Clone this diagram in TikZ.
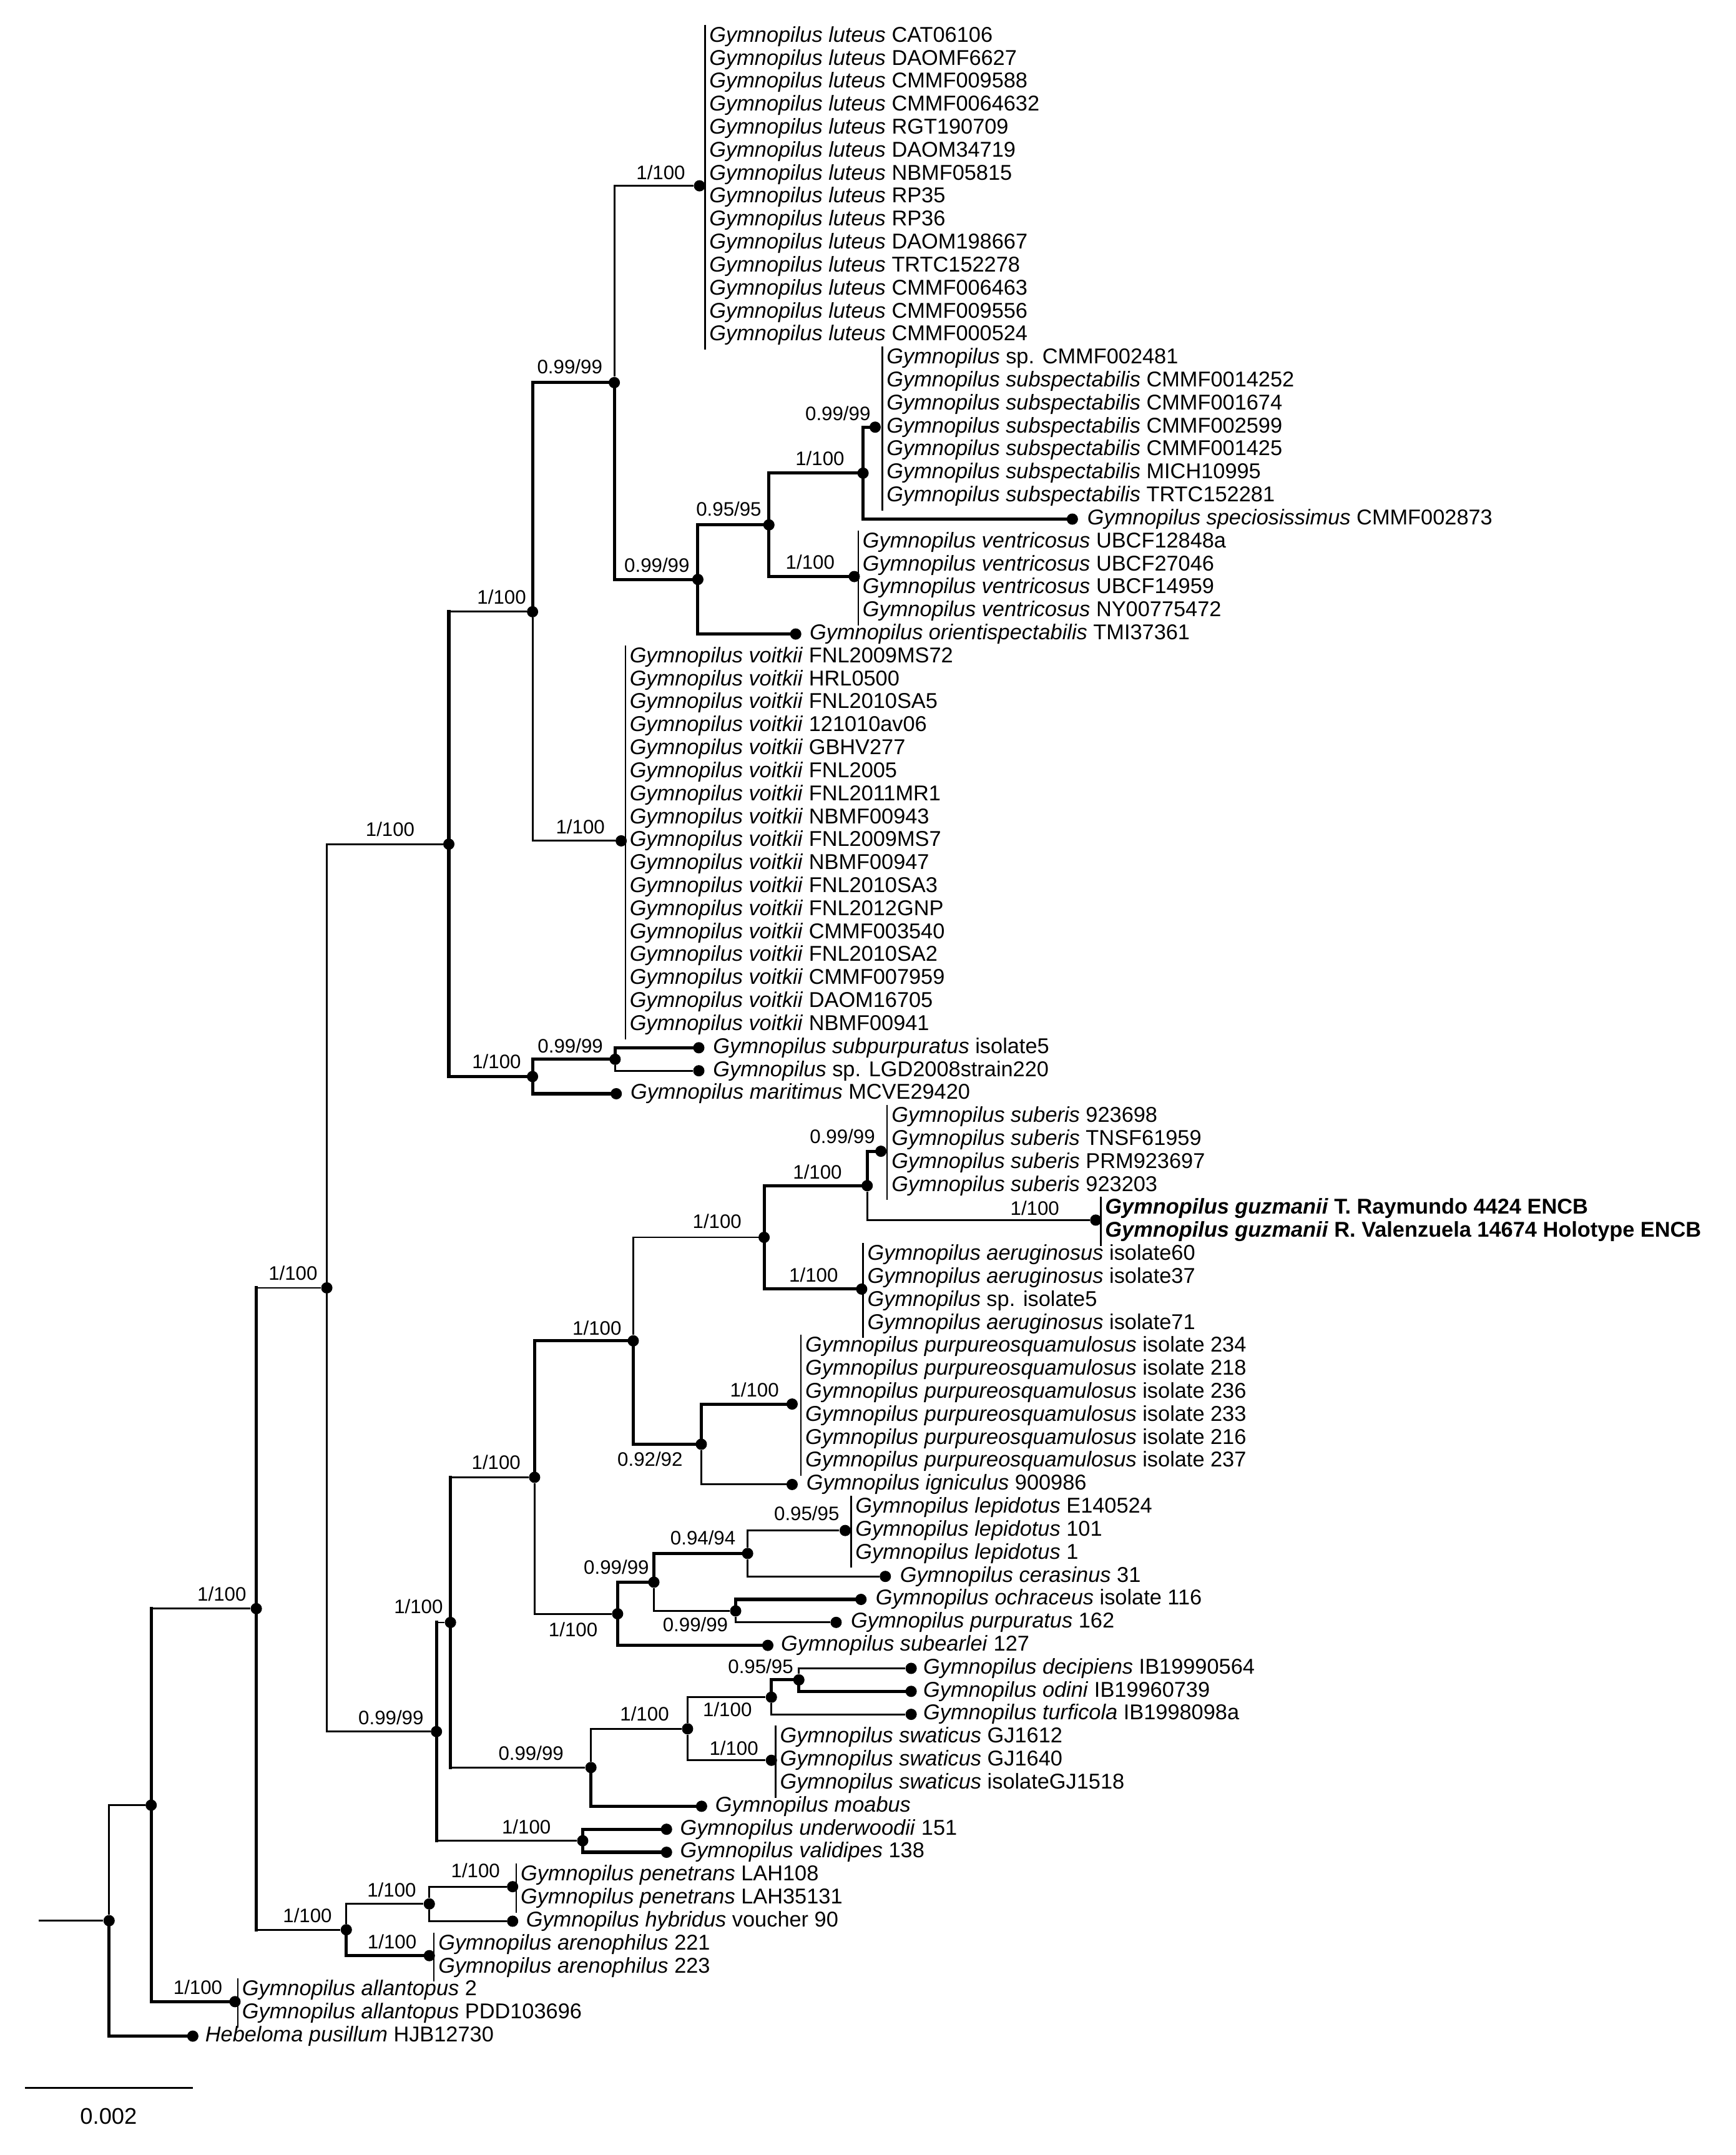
\documentclass[tikz,border=0pt]{standalone}
\usepackage{fontspec}
\setmainfont{Liberation Sans}
\usetikzlibrary{calc}
\tikzset{
  br/.style={line width=1.3pt},
  thk/.style={line width=2.3pt,line cap=rect},
  dot/.style={circle,fill=black,inner sep=0pt,minimum size=8.2pt},
  leaf/.style={anchor=west,inner sep=0pt,font=\fontsize{15.6}{18}\selectfont},
  sup/.style={inner sep=0pt,font=\fontsize{14.2}{16}\selectfont},
  grpbar/.style={line width=1pt},
}
\newcommand{\gy}[2]{\textit{Gymnopilus #1} #2}
\newcommand{\ly}[1]{26.5+16.724*#1}

\begin{document}
\begin{tikzpicture}[x=1pt,y=-1pt]
\useasboundingbox[fill=white] (0,0) rectangle (1263,1568);

% internal nodes
\node[dot] (rt) at (79.4,1397.5) {};
\node[dot] (nN) at (110,1313.45) {};
\node[dot] (nM) at (186.5,1170.45) {};
\node[dot] (nE) at (237.8,937.05) {};
\node[dot] (nC) at (326.6,614.2) {};
\node[dot] (nB) at (387.5,445.1) {};
\node[dot] (nA2) at (447,278.4) {};
\node[dot] (nLu) at (509,135.2) {};
\node[dot] (nA3) at (507.8,421.6) {};
\node[dot] (n95) at (559.5,381.9) {};
\node[dot] (n1a) at (628,344.25) {};
\node[dot] (nSs) at (636.8,310.8) {};
\node[dot] (nVt) at (621.6,419.5) {};
\node[dot] (nVk) at (452,611.8) {};
\node[dot] (nD1) at (387.5,783.3) {};
\node[dot] (nD2) at (447.6,770.75) {};
\node[dot] (nQ) at (317.6,1259.9) {};
\node[dot] (nL) at (327.8,1180.5) {};
\node[dot] (nJ) at (389,1074.9) {};
\node[dot] (nG) at (460.8,975.6) {};
\node[dot] (nF) at (556,900.3) {};
\node[dot] (nF2) at (631,862.7) {};
\node[dot] (nSb) at (641,837.65) {};
\node[dot] (nGz) at (797.3,887.75) {};
\node[dot] (nAe) at (627,937.95) {};
\node[dot] (nH) at (510.3,1050.85) {};
\node[dot] (nPq) at (576.4,1021.6) {};
\node[dot] (nK) at (449.4,1174.2) {};
\node[dot] (nK2) at (475.8,1151.2) {};
\node[dot] (nK3) at (544,1130.3) {};
\node[dot] (nK4) at (535.3,1172.1) {};
\node[dot] (nLp) at (615,1113.6) {};
\node[dot] (nP) at (430,1286.05) {};
\node[dot] (nS) at (500.3,1257.9) {};
\node[dot] (nT) at (561.3,1234.9) {};
\node[dot] (nU) at (581.3,1222.3) {};
\node[dot] (nSw) at (561.3,1280.8) {};
\node[dot] (nV) at (424,1339.35) {};
\node[dot] (nR) at (252,1404.1) {};
\node[dot] (nW) at (312.4,1385.3) {};
\node[dot] (nPn) at (373,1372.75) {};
\node[dot] (nAr) at (312.4,1422.95) {};
\node[dot] (nAl) at (171,1456.4) {};
\coordinate (rs) at (28,1397.5);

% single leaves
\node[dot] (dSc) at (780.3,{\ly{21}}) {};
\node[dot] (dOr) at (579,{\ly{26}}) {};
\node[dot] (dSu) at (508.5,{\ly{44}}) {};
\node[dot] (dLg) at (508.5,{\ly{45}}) {};
\node[dot] (dMa) at (448.4,{\ly{46}}) {};
\node[dot] (dIg) at (576.4,{\ly{63}}) {};
\node[dot] (dCe) at (644.2,{\ly{67}}) {};
\node[dot] (dOc) at (626.5,{\ly{68}}) {};
\node[dot] (dPu) at (608.4,{\ly{69}}) {};
\node[dot] (dSe) at (558.7,{\ly{70}}) {};
\node[dot] (dDe) at (663,{\ly{71}}) {};
\node[dot] (dOd) at (663,{\ly{72}}) {};
\node[dot] (dTu) at (663,{\ly{73}}) {};
\node[dot] (dMo) at (510.5,{\ly{77}}) {};
\node[dot] (dUn) at (485,{\ly{78}}) {};
\node[dot] (dVa) at (485,{\ly{79}}) {};
\node[dot] (dHy) at (373,{\ly{82}}) {};
\node[dot] (dHe) at (140.3,{\ly{87}}) {};

% branches
\draw[br] (rs) -- (rt);
\draw[br] (rt) |- (nN);
\draw[thk] (rt) |- (dHe);
\draw[br] (nN) |- (nM);
\draw[thk] (nN) |- (nAl);
\draw[br] (nM) |- (nE);
\draw[br] (nM) |- (nR);
\draw[br] (nE) |- (nC);
\draw[br] (nE) |- (nQ);
\draw[br] (nC) |- (nB);
\draw[thk] (nC) |- (nD1);
\draw[thk] (nB) |- (nA2);
\draw[br] (nB) |- (nVk);
\draw[br] (nA2) |- (nLu);
\draw[thk] (nA2) |- (nA3);
\draw[thk] (nA3) |- (n95);
\draw[thk] (nA3) |- (dOr);
\draw[thk] (n95) |- (n1a);
\draw[thk] (n95) |- (nVt);
\draw[thk] (n1a) |- (nSs);
\draw[thk] (n1a) |- (dSc);
\draw[thk] (nD1) |- (nD2);
\draw[thk] (nD1) |- (dMa);
\draw[thk] (nD2) |- (dSu);
\draw[br] (nD2) |- (dLg);
\draw[br] (nQ) |- (nL);
\draw[br] (nQ) |- (nV);
\draw[br] (nL) |- (nJ);
\draw[br] (nL) |- (nP);
\draw[thk] (nJ) |- (nG);
\draw[br] (nJ) |- (nK);
\draw[br] (nG) |- (nF);
\draw[thk] (nG) |- (nH);
\draw[thk] (nF) |- (nF2);
\draw[thk] (nF) |- (nAe);
\draw[thk] (nF2) |- (nSb);
\draw[br] (nF2) |- (nGz);
\draw[thk] (nH) |- (nPq);
\draw[br] (nH) |- (dIg);
\draw[thk] (nK) |- (nK2);
\draw[thk] (nK) |- (dSe);
\draw[thk] (nK2) |- (nK3);
\draw[br] (nK2) |- (nK4);
\draw[br] (nK3) |- (nLp);
\draw[br] (nK3) |- (dCe);
\draw[thk] (nK4) |- (dOc);
\draw[br] (nK4) |- (dPu);
\draw[br] (nP) |- (nS);
\draw[thk] (nP) |- (dMo);
\draw[br] (nS) |- (nT);
\draw[br] (nS) |- (nSw);
\draw[thk] (nT) |- (nU);
\draw[br] (nT) |- (dTu);
\draw[br] (nU) |- (dDe);
\draw[thk] (nU) |- (dOd);
\draw[thk] (nV) |- (dUn);
\draw[thk] (nV) |- (dVa);
\draw[br] (nR) |- (nW);
\draw[thk] (nR) |- (nAr);
\draw[br] (nW) |- (nPn);
\draw[br] (nW) |- (dHy);
\draw[thk] (nC |- nB) -- (nC |- nD1);
\draw[thk] (nM |- nE) -- (nM |- nR);
\draw[thk] (nN |- nM) -- (nN |- nAl);
\draw[thk] (nQ |- nL) -- (nQ |- nV);
\draw[thk] (nL |- nJ) -- (nL |- nP);
\draw[thk] (n95 |- n1a) -- (n95 |- nVt);

% support values
\node[sup] (sLu) at (480.8,125.7) {1/100};
\node[sup] (sA2) at (414.6,267) {0.99/99};
\node[sup] (sB) at (365,434.5) {1/100};
\node[sup] (sA3) at (478,411) {0.99/99};
\node[sup] (s95) at (530.3,370.4) {0.95/95};
\node[sup] (sSs) at (609.7,301) {0.99/99};
\node[sup] (s1a) at (596.6,333.5) {1/100};
\node[sup] (sVt) at (589.5,408.8) {1/100};
\node[sup] (sVk) at (422.3,601.4) {1/100};
\node[sup] (sC) at (283.9,603.2) {1/100};
\node[sup] (sD1) at (361.3,772.3) {1/100};
\node[sup] (sD2) at (415,760.8) {0.99/99};
\node[sup] (sSb) at (613,826.9) {0.99/99};
\node[sup] (sF2) at (594.8,852.7) {1/100};
\node[sup] (sGz) at (753,879) {1/100};
\node[sup] (sF) at (521.8,888.4) {1/100};
\node[sup] (sAe) at (592,927.8) {1/100};
\node[sup] (sG) at (434.4,966.2) {1/100};
\node[sup] (sPq) at (549,1011.4) {1/100};
\node[sup] (sH) at (473,1061.8) {0.92/92};
\node[sup] (sJ) at (361,1064) {1/100};
\node[sup] (sLp) at (587,1101) {0.95/95};
\node[sup] (sK3) at (511.5,1119) {0.94/94};
\node[sup] (sK2) at (448.5,1140.4) {0.99/99};
\node[sup] (sK4) at (506,1182) {0.99/99};
\node[sup] (sK) at (417,1185.8) {1/100};
\node[sup] (sL) at (304.5,1169) {1/100};
\node[sup] (sQ) at (284.5,1249.7) {0.99/99};
\node[sup] (sE) at (213.2,926.3) {1/100};
\node[sup] (sM) at (161.4,1159.6) {1/100};
\node[sup] (sP) at (386.4,1275.6) {0.99/99};
\node[sup] (sS) at (469,1247) {1/100};
\node[sup] (sT) at (529.3,1244) {1/100};
\node[sup] (sU) at (553.5,1212.4) {0.95/95};
\node[sup] (sSw) at (534,1271.8) {1/100};
\node[sup] (sV) at (383,1329) {1/100};
\node[sup] (sR) at (223.7,1393.5) {1/100};
\node[sup] (sW) at (285,1375) {1/100};
\node[sup] (sPn) at (346,1361) {1/100};
\node[sup] (sAr) at (285.3,1412.7) {1/100};
\node[sup] (sAl) at (144,1446) {1/100};

% taxa
\node[leaf] (t0) at (516,{\ly{0}}) {\gy{luteus}{CAT06106}};
\node[leaf] (t1) at (516,{\ly{1}}) {\gy{luteus}{DAOMF6627}};
\node[leaf] (t2) at (516,{\ly{2}}) {\gy{luteus}{CMMF009588}};
\node[leaf] (t3) at (516,{\ly{3}}) {\gy{luteus}{CMMF0064632}};
\node[leaf] (t4) at (516,{\ly{4}}) {\gy{luteus}{RGT190709}};
\node[leaf] (t5) at (516,{\ly{5}}) {\gy{luteus}{DAOM34719}};
\node[leaf] (t6) at (516,{\ly{6}}) {\gy{luteus}{NBMF05815}};
\node[leaf] (t7) at (516,{\ly{7}}) {\gy{luteus}{RP35}};
\node[leaf] (t8) at (516,{\ly{8}}) {\gy{luteus}{RP36}};
\node[leaf] (t9) at (516,{\ly{9}}) {\gy{luteus}{DAOM198667}};
\node[leaf] (t10) at (516,{\ly{10}}) {\gy{luteus}{TRTC152278}};
\node[leaf] (t11) at (516,{\ly{11}}) {\gy{luteus}{CMMF006463}};
\node[leaf] (t12) at (516,{\ly{12}}) {\gy{luteus}{CMMF009556}};
\node[leaf] (t13) at (516,{\ly{13}}) {\gy{luteus}{CMMF000524}};
\node[leaf] (t14) at (645,{\ly{14}}) {\textit{Gymnopilus} sp. CMMF002481};
\node[leaf] (t15) at (645,{\ly{15}}) {\gy{subspectabilis}{CMMF0014252}};
\node[leaf] (t16) at (645,{\ly{16}}) {\gy{subspectabilis}{CMMF001674}};
\node[leaf] (t17) at (645,{\ly{17}}) {\gy{subspectabilis}{CMMF002599}};
\node[leaf] (t18) at (645,{\ly{18}}) {\gy{subspectabilis}{CMMF001425}};
\node[leaf] (t19) at (645,{\ly{19}}) {\gy{subspectabilis}{MICH10995}};
\node[leaf] (t20) at (645,{\ly{20}}) {\gy{subspectabilis}{TRTC152281}};
\node[leaf] (t21) at (791,{\ly{21}}) {\gy{speciosissimus}{CMMF002873}};
\node[leaf] (t22) at (627.5,{\ly{22}}) {\gy{ventricosus}{UBCF12848a}};
\node[leaf] (t23) at (627.5,{\ly{23}}) {\gy{ventricosus}{UBCF27046}};
\node[leaf] (t24) at (627.5,{\ly{24}}) {\gy{ventricosus}{UBCF14959}};
\node[leaf] (t25) at (627.5,{\ly{25}}) {\gy{ventricosus}{NY00775472}};
\node[leaf] (t26) at (589,{\ly{26}}) {\gy{orientispectabilis}{TMI37361}};
\node[leaf] (t27) at (458,{\ly{27}}) {\gy{voitkii}{FNL2009MS72}};
\node[leaf] (t28) at (458,{\ly{28}}) {\gy{voitkii}{HRL0500}};
\node[leaf] (t29) at (458,{\ly{29}}) {\gy{voitkii}{FNL2010SA5}};
\node[leaf] (t30) at (458,{\ly{30}}) {\gy{voitkii}{121010av06}};
\node[leaf] (t31) at (458,{\ly{31}}) {\gy{voitkii}{GBHV277}};
\node[leaf] (t32) at (458,{\ly{32}}) {\gy{voitkii}{FNL2005}};
\node[leaf] (t33) at (458,{\ly{33}}) {\gy{voitkii}{FNL2011MR1}};
\node[leaf] (t34) at (458,{\ly{34}}) {\gy{voitkii}{NBMF00943}};
\node[leaf] (t35) at (458,{\ly{35}}) {\gy{voitkii}{FNL2009MS7}};
\node[leaf] (t36) at (458,{\ly{36}}) {\gy{voitkii}{NBMF00947}};
\node[leaf] (t37) at (458,{\ly{37}}) {\gy{voitkii}{FNL2010SA3}};
\node[leaf] (t38) at (458,{\ly{38}}) {\gy{voitkii}{FNL2012GNP}};
\node[leaf] (t39) at (458,{\ly{39}}) {\gy{voitkii}{CMMF003540}};
\node[leaf] (t40) at (458,{\ly{40}}) {\gy{voitkii}{FNL2010SA2}};
\node[leaf] (t41) at (458,{\ly{41}}) {\gy{voitkii}{CMMF007959}};
\node[leaf] (t42) at (458,{\ly{42}}) {\gy{voitkii}{DAOM16705}};
\node[leaf] (t43) at (458,{\ly{43}}) {\gy{voitkii}{NBMF00941}};
\node[leaf] (t44) at (518.7,{\ly{44}}) {\gy{subpurpuratus}{isolate5}};
\node[leaf] (t45) at (518.7,{\ly{45}}) {\textit{Gymnopilus} sp. LGD2008strain220};
\node[leaf] (t46) at (458.6,{\ly{46}}) {\gy{maritimus}{MCVE29420}};
\node[leaf] (t47) at (648.6,{\ly{47}}) {\gy{suberis}{923698}};
\node[leaf] (t48) at (648.6,{\ly{48}}) {\gy{suberis}{TNSF61959}};
\node[leaf] (t49) at (648.6,{\ly{49}}) {\gy{suberis}{PRM923697}};
\node[leaf] (t50) at (648.6,{\ly{50}}) {\gy{suberis}{923203}};
\node[leaf] (t51) at (804,{\ly{51}}) {\textbf{\gy{guzmanii}{T. Raymundo 4424 ENCB}}};
\node[leaf] (t52) at (804,{\ly{52}}) {\textbf{\gy{guzmanii}{R. Valenzuela 14674 Holotype ENCB}}};
\node[leaf] (t53) at (631,{\ly{53}}) {\gy{aeruginosus}{isolate60}};
\node[leaf] (t54) at (631,{\ly{54}}) {\gy{aeruginosus}{isolate37}};
\node[leaf] (t55) at (631,{\ly{55}}) {\textit{Gymnopilus} sp. isolate5};
\node[leaf] (t56) at (631,{\ly{56}}) {\gy{aeruginosus}{isolate71}};
\node[leaf] (t57) at (585.8,{\ly{57}}) {\gy{purpureosquamulosus}{isolate 234}};
\node[leaf] (t58) at (585.8,{\ly{58}}) {\gy{purpureosquamulosus}{isolate 218}};
\node[leaf] (t59) at (585.8,{\ly{59}}) {\gy{purpureosquamulosus}{isolate 236}};
\node[leaf] (t60) at (585.8,{\ly{60}}) {\gy{purpureosquamulosus}{isolate 233}};
\node[leaf] (t61) at (585.8,{\ly{61}}) {\gy{purpureosquamulosus}{isolate 216}};
\node[leaf] (t62) at (585.8,{\ly{62}}) {\gy{purpureosquamulosus}{isolate 237}};
\node[leaf] (t63) at (586.6,{\ly{63}}) {\gy{igniculus}{900986}};
\node[leaf] (t64) at (622.3,{\ly{64}}) {\gy{lepidotus}{E140524}};
\node[leaf] (t65) at (622.3,{\ly{65}}) {\gy{lepidotus}{101}};
\node[leaf] (t66) at (622.3,{\ly{66}}) {\gy{lepidotus}{1}};
\node[leaf] (t67) at (654.7,{\ly{67}}) {\gy{cerasinus}{31}};
\node[leaf] (t68) at (637,{\ly{68}}) {\gy{ochraceus}{isolate 116}};
\node[leaf] (t69) at (619,{\ly{69}}) {\gy{purpuratus}{162}};
\node[leaf] (t70) at (568.1,{\ly{70}}) {\gy{subearlei}{127}};
\node[leaf] (t71) at (671.7,{\ly{71}}) {\gy{decipiens}{IB19990564}};
\node[leaf] (t72) at (671.7,{\ly{72}}) {\gy{odini}{IB19960739}};
\node[leaf] (t73) at (671.7,{\ly{73}}) {\gy{turficola}{IB1998098a}};
\node[leaf] (t74) at (567.4,{\ly{74}}) {\gy{swaticus}{GJ1612}};
\node[leaf] (t75) at (567.4,{\ly{75}}) {\gy{swaticus}{GJ1640}};
\node[leaf] (t76) at (567.4,{\ly{76}}) {\gy{swaticus}{isolateGJ1518}};
\node[leaf] (t77) at (520.3,{\ly{77}}) {\textit{Gymnopilus moabus}};
\node[leaf] (t78) at (494.7,{\ly{78}}) {\gy{underwoodii}{151}};
\node[leaf] (t79) at (494.7,{\ly{79}}) {\gy{validipes}{138}};
\node[leaf] (t80) at (378.7,{\ly{80}}) {\gy{penetrans}{LAH108}};
\node[leaf] (t81) at (378.7,{\ly{81}}) {\gy{penetrans}{LAH35131}};
\node[leaf] (t82) at (382.6,{\ly{82}}) {\gy{hybridus}{voucher 90}};
\node[leaf] (t83) at (318.8,{\ly{83}}) {\gy{arenophilus}{221}};
\node[leaf] (t84) at (318.8,{\ly{84}}) {\gy{arenophilus}{223}};
\node[leaf] (t85) at (176,{\ly{85}}) {\gy{allantopus}{2}};
\node[leaf] (t86) at (176,{\ly{86}}) {\gy{allantopus}{PDD103696}};
\node[leaf] (t87) at (149.2,{\ly{87}}) {\textit{Hebeloma pusillum} HJB12730};

% bars beside grouped taxa
\draw[grpbar] ([xshift=-3pt,yshift=1pt]t0.north west) -- ([xshift=-3pt,yshift=-3pt]t13.south west);
\draw[grpbar] ([xshift=-3pt,yshift=1pt]t14.north west) -- ([xshift=-3pt,yshift=-3pt]t20.south west);
\draw[grpbar] ([xshift=-3pt,yshift=1pt]t22.north west) -- ([xshift=-3pt,yshift=-3pt]t25.south west);
\draw[grpbar] ([xshift=-3pt,yshift=1pt]t27.north west) -- ([xshift=-3pt,yshift=-3pt]t43.south west);
\draw[grpbar] ([xshift=-3pt,yshift=1pt]t47.north west) -- ([xshift=-3pt,yshift=-3pt]t50.south west);
\draw[grpbar] ([xshift=-3pt,yshift=1pt]t51.north west) -- ([xshift=-3pt,yshift=-3pt]t52.south west);
\draw[grpbar] ([xshift=-3pt,yshift=1pt]t53.north west) -- ([xshift=-3pt,yshift=-3pt]t56.south west);
\draw[grpbar] ([xshift=-3pt,yshift=1pt]t57.north west) -- ([xshift=-3pt,yshift=-3pt]t62.south west);
\draw[grpbar] ([xshift=-3pt,yshift=1pt]t64.north west) -- ([xshift=-3pt,yshift=-3pt]t66.south west);
\draw[grpbar] ([xshift=-3pt,yshift=1pt]t74.north west) -- ([xshift=-3pt,yshift=-3pt]t76.south west);
\draw[grpbar] ([xshift=-3pt,yshift=1pt]t80.north west) -- ([xshift=-3pt,yshift=-3pt]t81.south west);
\draw[grpbar] ([xshift=-3pt,yshift=1pt]t83.north west) -- ([xshift=-3pt,yshift=-3pt]t84.south west);
\draw[grpbar] ([xshift=-3pt,yshift=1pt]t85.north west) -- ([xshift=-3pt,yshift=-3pt]t86.south west);

% scale bar
\coordinate (sb1) at (18.2,1519);
\coordinate (sb2) at (140.3,1519);
\draw[br] (sb1) -- (sb2);
\node[inner sep=0pt,font=\fontsize{16.5}{18}\selectfont] (sbl) at (79,1540) {0.002};
\end{tikzpicture}
\end{document}
